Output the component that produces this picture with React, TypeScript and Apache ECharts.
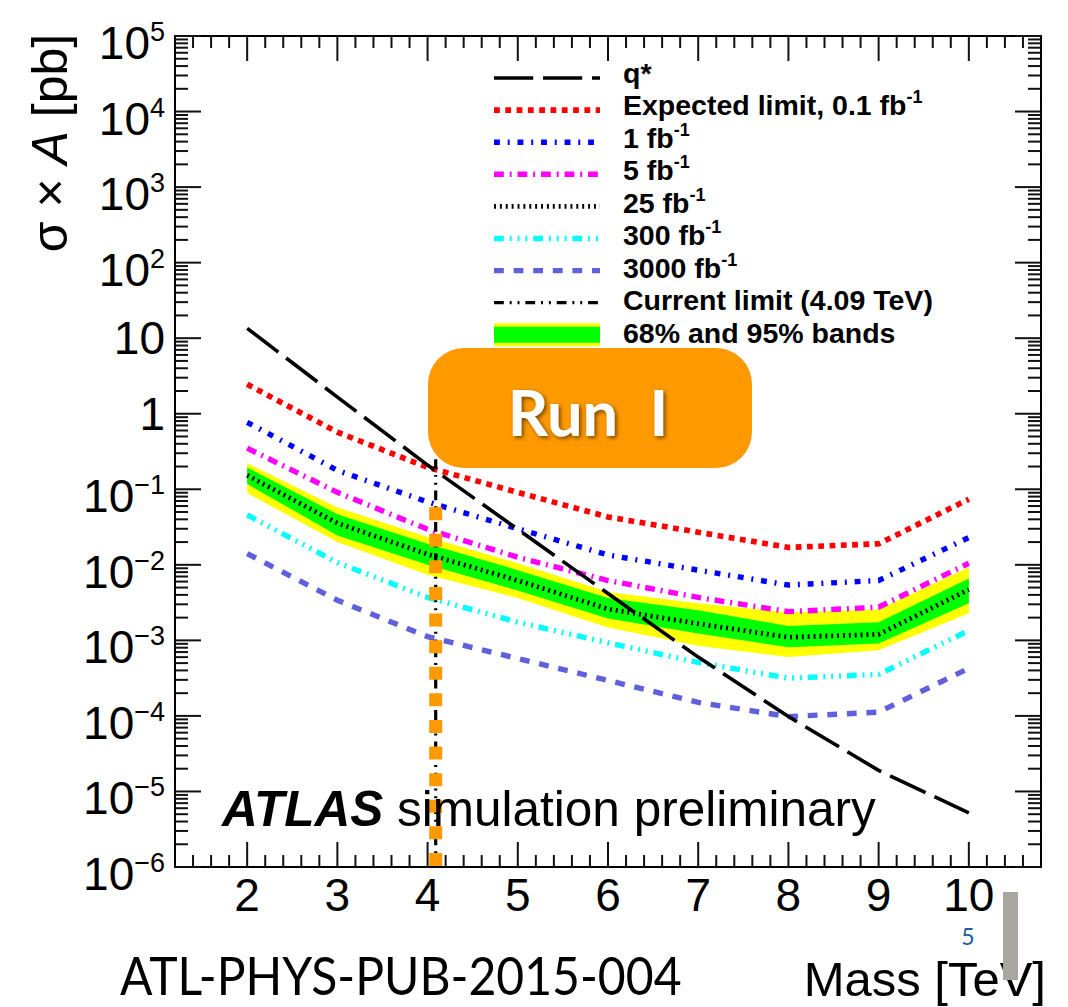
import React, { useEffect, useRef } from "react";
import * as echarts from "echarts";

// ---------------- data ----------------
const masses = [2, 3, 4, 5, 6, 7, 8, 9, 10];
const qStar = [13.5, 1.66, 0.209, 0.0295, 0.00417, 0.0006, 0.000098, 0.000019, 0.0000052];
const exp01 = [2.45, 0.57, 0.195, 0.091, 0.043, 0.027, 0.017, 0.019, 0.074];
const exp1 = [0.77, 0.178, 0.068, 0.03, 0.0135, 0.0085, 0.0054, 0.0062, 0.023];
const exp5 = [0.35, 0.091, 0.0295, 0.0126, 0.0062, 0.0037, 0.0024, 0.00275, 0.0105];
const exp25 = [0.153, 0.0355, 0.0138, 0.0062, 0.0026, 0.00166, 0.0011, 0.0012, 0.0047];
const band68Lo = [0.1175, 0.0245, 0.01, 0.00457, 0.00195, 0.00123, 0.00081, 0.00091, 0.00309];
const band68Hi = [0.195, 0.0468, 0.019, 0.0085, 0.00363, 0.00251, 0.00155, 0.00174, 0.0066];
const band95Lo = [0.089, 0.02, 0.0074, 0.00363, 0.00148, 0.00085, 0.0006, 0.00074, 0.00229];
const band95Hi = [0.221, 0.0575, 0.0234, 0.0105, 0.00437, 0.00309, 0.00234, 0.00257, 0.0093];
const exp300 = [0.0457, 0.0107, 0.0037, 0.00174, 0.00093, 0.00051, 0.000316, 0.000355, 0.00135];
const exp3000 = [0.0141, 0.0034, 0.00112, 0.000575, 0.000295, 0.000151, 0.000098, 0.000112, 0.000427];
const currentLimitMass = 4.09;
const currentLimitTop = 0.25;
const run1LineTop = 0.058;
const xRange = [1.2, 10.8];
const yRange = [1e-6, 1e5];

const legendLabels = [
  ["q*", ""],
  ["Expected limit, 0.1 fb", "-1"],
  ["1 fb", "-1"],
  ["5 fb", "-1"],
  ["25 fb", "-1"],
  ["300 fb", "-1"],
  ["3000 fb", "-1"],
  ["Current limit (4.09 TeV)", ""],
  ["68% and 95% bands", ""],
];

// ---------------- styles ----------------
const FONT = '"Liberation Sans", Arial, Helvetica, sans-serif';
const S = 0.49; // ROOT dash scale
const dash = (a: number[]) => a.map((v) => v * S);
const styles = [
  { color: "#000000", width: 3.6, dash: dash([80, 20]) },
  { color: "#ff0000", width: 5.6, dash: [5.8, 5.5] },
  { color: "#0000ff", width: 5.4, dash: dash([12, 16, 4, 16]) },
  { color: "#ff00ff", width: 5.4, dash: dash([20, 12, 4, 12]) },
  { color: "#000000", width: 4.8, dash: dash([4, 8]) },
  { color: "#00ffff", width: 5.4, dash: dash([20, 12, 4, 12, 4, 12, 4, 12]) },
  { color: "#6060dd", width: 5.4, dash: dash([20, 20]) },
  { color: "#000000", width: 3.2, dash: dash([20, 12, 4, 12, 4, 12]) },
];

const L = (v: number) => Math.log10(v);

export default function App() {
  const ref = useRef<HTMLDivElement>(null);
  useEffect(() => {
    if (!ref.current) return;
    document.body.style.margin = "0";
    const chart = echarts.init(ref.current, null, { renderer: "svg" });

    const yMinL = L(yRange[0]);
    const yMaxL = L(yRange[1]);

    const lineSeries = (name: string, vals: number[], st: any, z = 3) => ({
      name,
      type: "line",
      data: masses.map((m, i) => [m, L(vals[i])]),
      showSymbol: false,
      symbol: "none",
      silent: true,
      z,
      lineStyle: { color: st.color, width: st.width, type: st.dash, cap: "butt", join: "miter" },
    });

    const bandSeries = (lo: number[], hi: number[], fill: string, z: number) => ({
      type: "custom",
      silent: true,
      z,
      data: [[masses[0], L(hi[0])]],
      renderItem: (params: any, api: any) => {
        const up = masses.map((m, i) => api.coord([m, L(hi[i])]));
        const dn = masses.map((m, i) => api.coord([m, L(lo[i])])).reverse();
        return { type: "polygon", shape: { points: up.concat(dn) }, style: { fill } };
      },
    });

    // tick marks (drawn through the axes' own scales)
    const xTickData: number[][] = [];
    for (let k = 7; k <= 53; k++) {
      const v = k / 5;
      xTickData.push([v, yMinL, Number.isInteger(v) ? 1 : 0]);
    }
    const yTickData: number[][] = [];
    for (let n = -6; n <= 5; n++) {
      for (let k = 1; k <= 9; k++) {
        if (n === 5 && k > 1) continue;
        yTickData.push([xRange[0], n + Math.log10(k), k === 1 ? 1 : 0]);
      }
    }
    const tickStyle = { stroke: "#111", lineWidth: 2 };
    const xTicks = {
      type: "custom",
      silent: true,
      z: 6,
      data: xTickData,
      renderItem: (params: any, api: any) => {
        const cs = params.coordSys;
        const x = api.coord([api.value(0), yMinL])[0];
        const len = api.value(2) === 1 ? 25 : 12;
        const b = cs.y + cs.height;
        const t = cs.y;
        return {
          type: "group",
          children: [
            { type: "line", shape: { x1: x, y1: b, x2: x, y2: b - len }, style: tickStyle },
            { type: "line", shape: { x1: x, y1: t, x2: x, y2: t + len }, style: tickStyle },
          ],
        };
      },
    };
    const yTicks = {
      type: "custom",
      silent: true,
      z: 6,
      data: yTickData,
      renderItem: (params: any, api: any) => {
        const cs = params.coordSys;
        const y = api.coord([xRange[0], api.value(1)])[1];
        const len = api.value(2) === 1 ? 26 : 13;
        const l = cs.x;
        const r = cs.x + cs.width;
        return {
          type: "group",
          children: [
            { type: "line", shape: { x1: l, y1: y, x2: l + len, y2: y }, style: tickStyle },
            { type: "line", shape: { x1: r, y1: y, x2: r - len, y2: y }, style: tickStyle },
          ],
        };
      },
    };

    // legend graphics
    const legendEls: any[] = [];
    const lx1 = 494, lx2 = 600, tx = 623;
    legendLabels.forEach((lab, i) => {
      const ly = 78 + 32.1 * i;
      const ty = 72.5 + 32.55 * i;
      if (i < 8) {
        const st = styles[i];
        legendEls.push({
          type: "line",
          shape: { x1: lx1, y1: ly, x2: lx2, y2: ly },
          style: { stroke: st.color, lineWidth: st.width, lineDash: st.dash, lineCap: "butt" },
        });
      } else {
        legendEls.push({ type: "rect", shape: { x: lx1, y: ly - 11.5, width: lx2 - lx1, height: 23 }, style: { fill: "#ffff00" } });
        legendEls.push({ type: "rect", shape: { x: lx1, y: ly - 8, width: lx2 - lx1, height: 16 }, style: { fill: "#00ff00" } });
      }
      legendEls.push({
        type: "text",
        style: {
          x: tx,
          y: ty,
          text: lab[1] ? `{t|${lab[0]}}{s|${lab[1]}}` : `{t|${lab[0]}}`,
          textAlign: "left",
          textVerticalAlign: "middle",
          fill: "#000",
          rich: {
            t: { fontSize: 28.5, fontWeight: "bold", fontFamily: FONT, lineHeight: 34, fill: "#000", color: "#000" },
            s: { fontSize: 18, fontWeight: "bold", fontFamily: FONT, lineHeight: 18, verticalAlign: "top", fill: "#000", color: "#000" },
          },
        },
      });
    });

    const option: any = {
      animation: false,
      backgroundColor: "#ffffff",
      grid: {
        left: 175,
        top: 36,
        width: 866,
        height: 831,
        show: true,
        borderColor: "#000",
        borderWidth: 2,
        backgroundColor: "transparent",
        z: 5,
      },
      xAxis: {
        type: "value",
        min: xRange[0],
        max: xRange[1],
        splitNumber: 10,
        minInterval: 1,
        maxInterval: 1,
        axisLine: { show: false },
        axisTick: { show: false },
        splitLine: { show: false },
        axisLabel: {
          fontSize: 46,
          fontFamily: FONT,
          color: "#000",
          margin: 5,
          lineHeight: 46,
          formatter: (v: number) => (Math.abs(v - Math.round(v)) < 1e-9 ? String(Math.round(v)) : ""),
        },
      },
      yAxis: {
        type: "value",
        min: yMinL,
        max: yMaxL,
        interval: 1,
        axisLine: { show: false },
        axisTick: { show: false },
        splitLine: { show: false },
        axisLabel: {
          fontSize: 46,
          fontFamily: FONT,
          color: "#000",
          margin: 10,
          lineHeight: 46,
          formatter: (v: number) => {
            const n = Math.round(v);
            if (n === 0) return "1";
            if (n === 1) return "10";
            const e = n < 0 ? "\u2212" + -n : String(n);
            return "{b|10}{s|" + e + "}";
          },
          rich: {
            b: { fontSize: 46, fontFamily: FONT, color: "#000", lineHeight: 46, padding: [14, 0, 0, 0] },
            s: { fontSize: 27, fontFamily: FONT, color: "#000", lineHeight: 27, padding: [0, 0, 8, 0] },
          },
        },
      },
      series: [
        bandSeries(band95Lo, band95Hi, "#ffff00", 1),
        bandSeries(band68Lo, band68Hi, "#00ff00", 1),
        lineSeries("q*", qStar, styles[0], 4),
        lineSeries("0.1", exp01, styles[1]),
        lineSeries("1", exp1, styles[2]),
        lineSeries("5", exp5, styles[3]),
        lineSeries("25", exp25, styles[4]),
        lineSeries("300", exp300, styles[5]),
        lineSeries("3000", exp3000, styles[6]),
        {
          type: "line",
          data: [
            [currentLimitMass, L(currentLimitTop)],
            [currentLimitMass, yMinL],
          ],
          showSymbol: false,
          symbol: "none",
          silent: true,
          z: 4,
          lineStyle: { color: "#000", width: styles[7].width, type: styles[7].dash, cap: "butt" },
        },
        {
          type: "line",
          data: [
            [currentLimitMass, L(run1LineTop)],
            [currentLimitMass, yMinL],
          ],
          showSymbol: false,
          symbol: "none",
          silent: true,
          z: 5,
          lineStyle: { color: "#ff9900", width: 13, type: [13, 13.6], cap: "butt" },
        },
        xTicks,
        yTicks,
      ],
      graphic: [
        {
          type: "text",
          x: 50,
          y: 143,
          rotation: Math.PI / 2,
          style: {
            text: "σ × {i|A} [pb]",
            fontSize: 50,
            fontFamily: FONT,
            fill: "#000",
            textAlign: "center",
            textVerticalAlign: "middle",
            rich: { i: { fontSize: 50, fontFamily: FONT, fontStyle: "italic", fill: "#000" } },
          },
        },
        ...legendEls,
        {
          type: "text",
          z: 20,
          style: {
            x: 222,
            y: 808,
            text: "{a|ATLAS} simulation preliminary",
            fontSize: 49.5,
            fontFamily: FONT,
            fill: "#000",
            textAlign: "left",
            textVerticalAlign: "middle",
            rich: { a: { fontSize: 49.5, fontFamily: FONT, fontWeight: "bold", fontStyle: "italic", fill: "#000" } },
          },
        },
        {
          type: "rect",
          z: 30,
          shape: { x: 428, y: 348, width: 324, height: 120, r: 36 },
          style: { fill: "#ff9900" },
        },
        {
          type: "text",
          z: 31,
          style: {
            x: 588,
            y: 411,
            text: "Run\u2002I",
            fontSize: 63,
            fontWeight: "bold",
            fontFamily: "Lato, " + FONT,
            fill: "#ffffff",
            textAlign: "center",
            textVerticalAlign: "middle",
            textShadowColor: "rgba(0,0,0,0.55)",
            textShadowBlur: 4,
            textShadowOffsetX: 2,
            textShadowOffsetY: 2,
          },
        },
        {
          type: "text",
          x: 120,
          y: 975,
          scaleX: 0.925,
          style: {
            x: 0,
            y: 0,
            text: "ATL-PHYS-PUB-2015-004",
            fontSize: 52,
            lineHeight: 46,
            fontFamily: "Lato, " + FONT,
            fill: "#000",
            textAlign: "left",
            textVerticalAlign: "middle",
          },
        },
        {
          type: "text",
          style: {
            x: 1046,
            y: 979,
            text: "Mass [TeV]",
            fontSize: 49,
            lineHeight: 44,
            fontFamily: FONT,
            fill: "#000",
            textAlign: "right",
            textVerticalAlign: "middle",
          },
        },
        {
          type: "text",
          style: {
            x: 968,
            y: 936,
            text: "5",
            fontSize: 23,
            lineHeight: 20,
            fontFamily: "Lato, " + FONT,
            fill: "#1f5c99",
            textAlign: "center",
            textVerticalAlign: "middle",
          },
        },
        {
          type: "rect",
          z: 40,
          shape: { x: 1003, y: 892, width: 15, height: 88 },
          style: { fill: "#a9a59f" },
        },
      ],
    };

    chart.setOption(option);
    return () => chart.dispose();
  }, []);
  return (
    <div
      ref={ref}
      style={{ position: "absolute", left: 0, top: 0, width: 1068, height: 1007, background: "#fff" }}
    />
  );
}
